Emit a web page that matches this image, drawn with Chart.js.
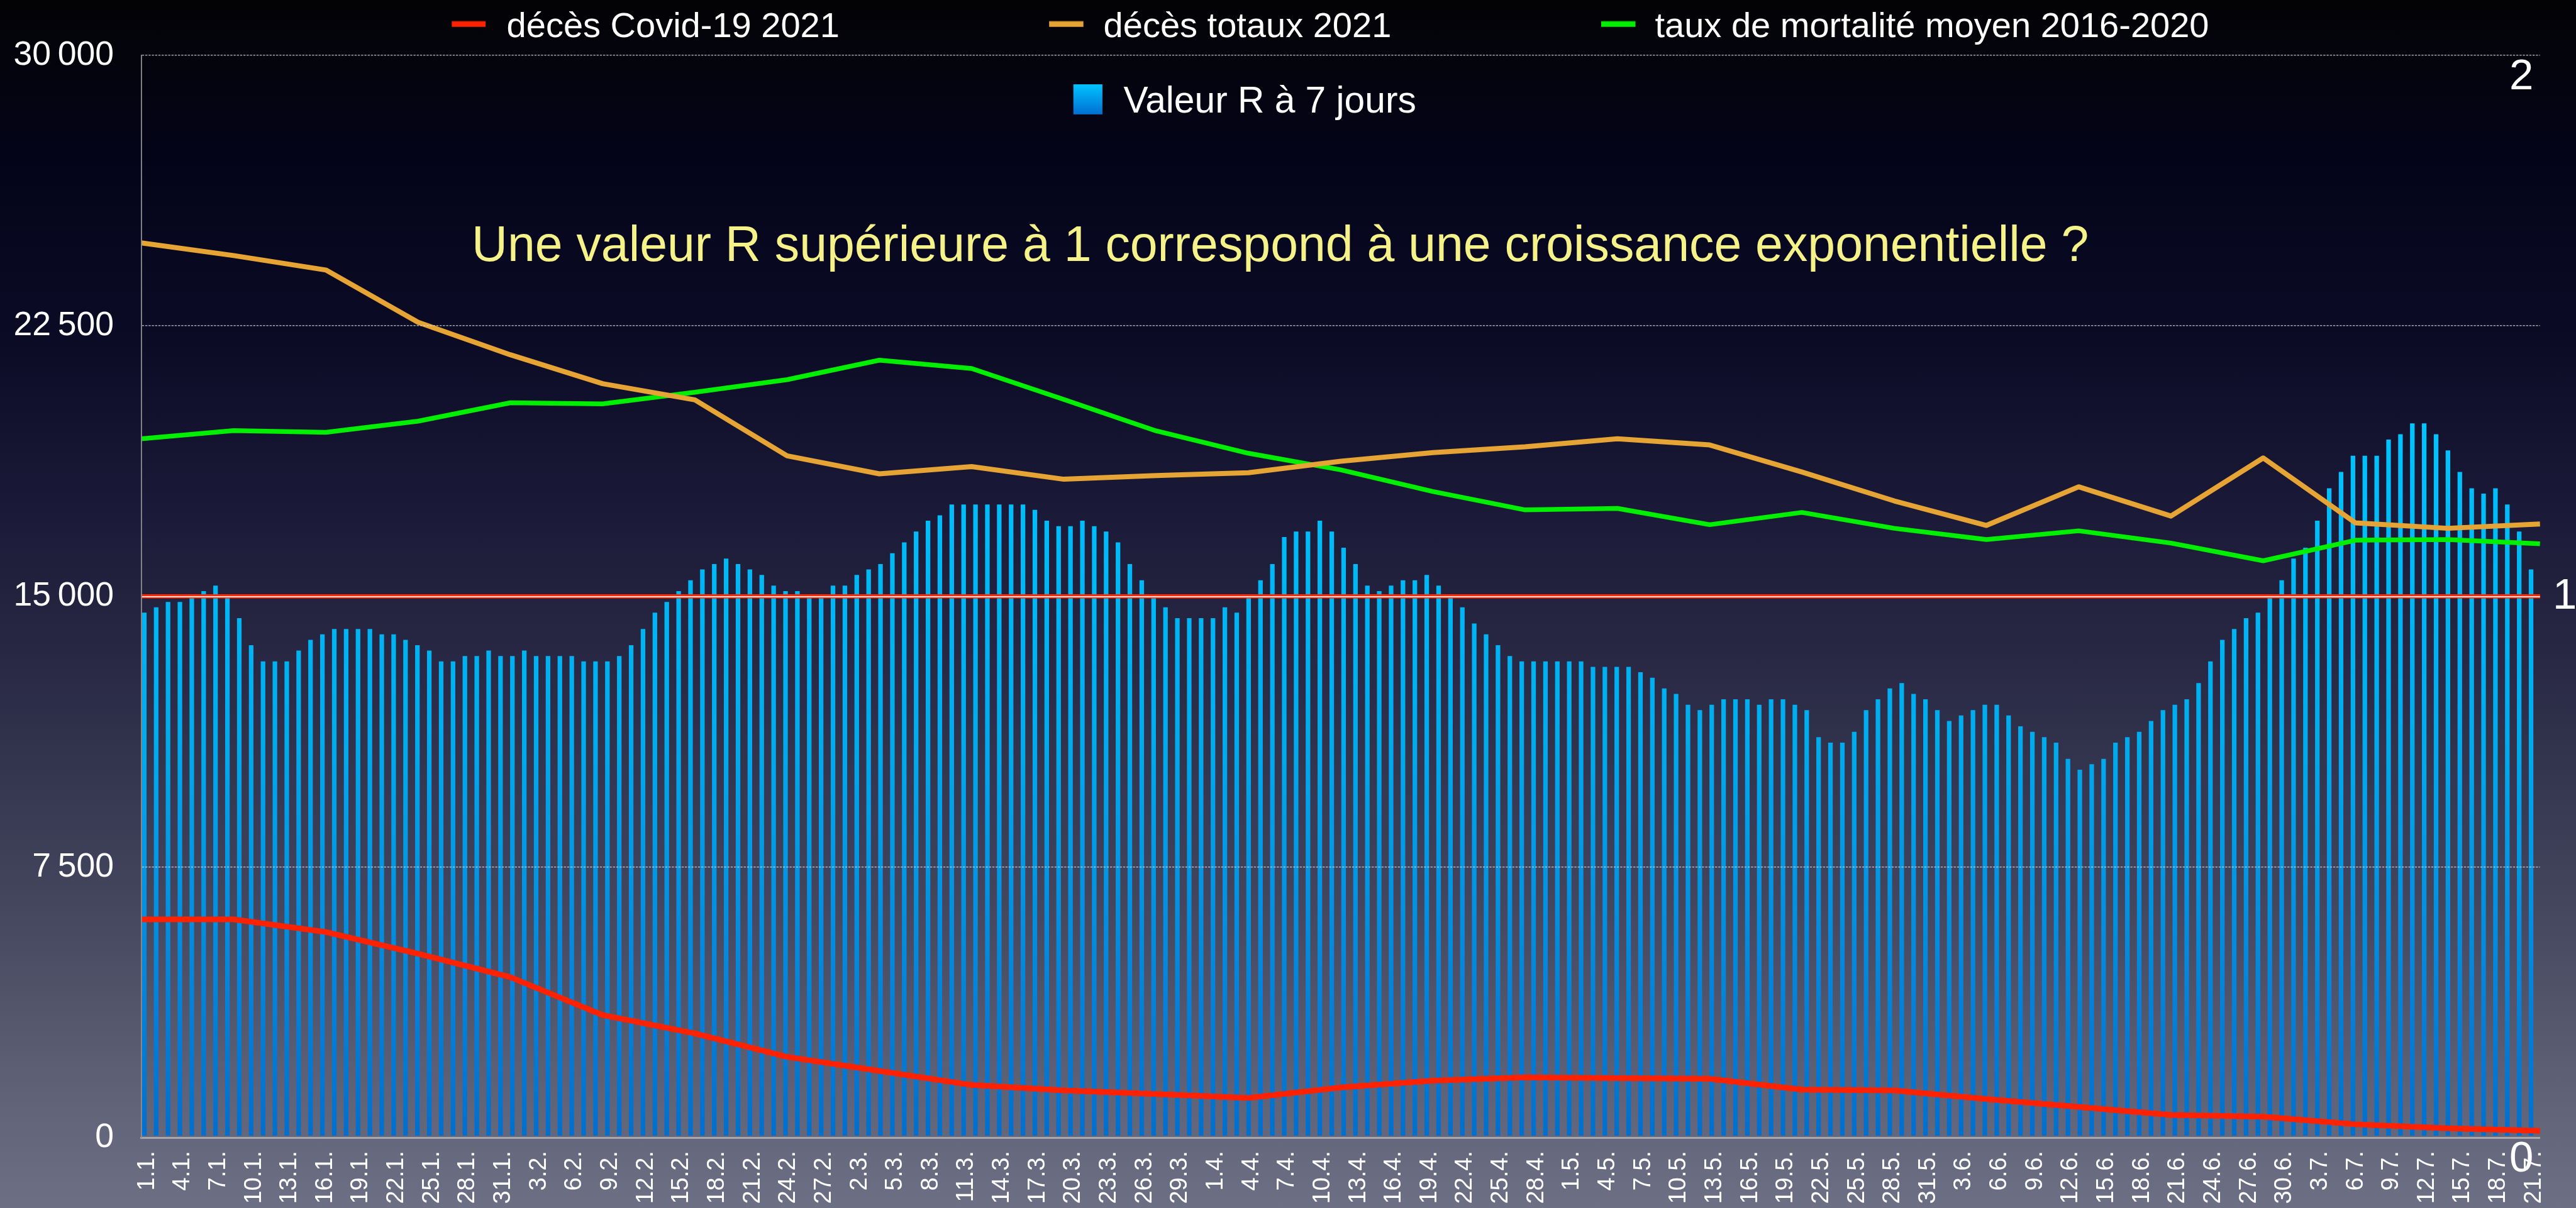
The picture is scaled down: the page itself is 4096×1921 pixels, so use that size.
<!DOCTYPE html>
<html lang="fr">
<head>
<meta charset="utf-8">
<title>Valeur R à 7 jours et décès 2021</title>
<script src="https://cdn.jsdelivr.net/npm/chart.js@4.4.1/dist/chart.umd.min.js"></script>
<style>
html, body { margin:0; padding:0; width:4096px; height:1921px; overflow:hidden;
  background: linear-gradient(to bottom, #030305 0%, #04041a 14%, #0b0b26 28%, #1a1a38 42%, #2a2a46 56%, #3a3b54 68%, #4d4f66 80%, #5f6176 90%, #6d7084 100%); }
canvas { display:block; }
</style>
</head>
<body>
<canvas id="c" width="4096" height="1921"></canvas>
<script>
// ---------- DATA ----------
const days = [
 "1.1.","2.1.","3.1.","4.1.","5.1.","6.1.","7.1.","8.1.","9.1.","10.1.","11.1.","12.1.","13.1.","14.1.","15.1.","16.1.","17.1.","18.1.","19.1.","20.1.","21.1.","22.1.","23.1.","24.1.","25.1.","26.1.","27.1.","28.1.","29.1.","30.1.","31.1.",
 "1.2.","2.2.","3.2.","4.2.","5.2.","6.2.","7.2.","8.2.","9.2.","10.2.","11.2.","12.2.","13.2.","14.2.","15.2.","16.2.","17.2.","18.2.","19.2.","20.2.","21.2.","22.2.","23.2.","24.2.","25.2.","26.2.","27.2.","28.2.",
 "1.3.","2.3.","3.3.","4.3.","5.3.","6.3.","7.3.","8.3.","9.3.","10.3.","11.3.","12.3.","13.3.","14.3.","15.3.","16.3.","17.3.","18.3.","19.3.","20.3.","21.3.","22.3.","23.3.","24.3.","25.3.","26.3.","27.3.","28.3.","29.3.","30.3.","31.3.",
 "1.4.","2.4.","3.4.","4.4.","5.4.","6.4.","7.4.","8.4.","9.4.","10.4.","11.4.","12.4.","13.4.","14.4.","15.4.","16.4.","17.4.","18.4.","19.4.","20.4.","21.4.","22.4.","23.4.","24.4.","25.4.","26.4.","27.4.","28.4.","29.4.","30.4.",
 "1.5.","2.5.","3.5.","4.5.","5.5.","6.5.","7.5.","8.5.","9.5.","10.5.","11.5.","12.5.","13.5.","14.5.","15.5.","16.5.","17.5.","18.5.","19.5.","20.5.","21.5.","22.5.","23.5.","24.5.","25.5.","26.5.","27.5.","28.5.","29.5.","30.5.","31.5.",
 "1.6.","2.6.","3.6.","4.6.","5.6.","6.6.","7.6.","8.6.","9.6.","10.6.","11.6.","12.6.","13.6.","14.6.","15.6.","16.6.","17.6.","18.6.","19.6.","20.6.","21.6.","22.6.","23.6.","24.6.","25.6.","26.6.","27.6.","28.6.","29.6.","30.6.",
 "1.7.","2.7.","3.7.","4.7.","5.7.","6.7.","7.7.","8.7.","9.7.","10.7.","11.7.","12.7.","13.7.","14.7.","15.7.","16.7.","17.7.","18.7.","19.7.","20.7.","21.7."
];

// Valeur R à 7 jours (right axis)
const rValues = [
 0.97,0.98,0.99,0.99,1.00,1.01,1.02,1.00,0.96,0.91,
 0.88,0.88,0.88,0.90,0.92,0.93,0.94,0.94,0.94,0.94,
 0.93,0.93,0.92,0.91,0.90,0.88,0.88,0.89,0.89,0.90,
 0.89,0.89,0.90,0.89,0.89,0.89,0.89,0.88,0.88,0.88,
 0.89,0.91,0.94,0.97,0.99,1.01,1.03,1.05,1.06,1.07,
 1.06,1.05,1.04,1.02,1.01,1.01,1.00,1.00,1.02,1.02,
 1.04,1.05,1.06,1.08,1.10,1.12,1.14,1.15,1.17,1.17,
 1.17,1.17,1.17,1.17,1.17,1.16,1.14,1.13,1.13,1.14,
 1.13,1.12,1.10,1.06,1.03,1.00,0.98,0.96,0.96,0.96,
 0.96,0.98,0.97,1.00,1.03,1.06,1.11,1.12,1.12,1.14,
 1.12,1.09,1.06,1.02,1.01,1.02,1.03,1.03,1.04,1.02,
 1.00,0.98,0.95,0.93,0.91,0.89,0.88,0.88,0.88,0.88,
 0.88,0.88,0.87,0.87,0.87,0.87,0.86,0.85,0.83,0.82,
 0.80,0.79,0.80,0.81,0.81,0.81,0.80,0.81,0.81,0.80,
 0.79,0.74,0.73,0.73,0.75,0.79,0.81,0.83,0.84,0.82,
 0.81,0.79,0.77,0.78,0.79,0.80,0.80,0.78,0.76,0.75,
 0.74,0.73,0.70,0.68,0.69,0.70,0.73,0.74,0.75,0.77,
 0.79,0.80,0.81,0.84,0.88,0.92,0.94,0.96,0.97,1.00,
 1.03,1.07,1.09,1.14,1.20,1.23,1.26,1.26,1.26,1.29,
 1.30,1.32,1.32,1.30,1.27,1.23,1.20,1.19,1.20,1.17,
 1.12,1.05
];

// line series sampling points (spread over the whole period)
const weeks = ["S1","S2","S3","S4","S5","S6","S7","S8","S9","S10","S11","S12","S13","S14",
 "S15","S16","S17","S18","S19","S20","S21","S22","S23","S24","S25","S26","S27"];

const covidDeaths = [6050,6050,5700,5100,4450,3400,2890,2240,1850,1460,1310,1210,1100,1390,
 1580,1670,1650,1630,1330,1310,1070,850,630,580,370,260,190];

const totalDeaths = [24800,24450,24050,22600,21700,20900,20450,18900,18400,18600,18250,18350,18430,18750,
 18990,19150,19370,19200,18450,17650,16970,18040,17230,18840,17040,16890,17010];

const avgMortality = [19370,19600,19550,19860,20370,20340,20660,21010,21550,21320,20460,19590,18970,18510,
 17910,17400,17440,16990,17330,16890,16580,16820,16480,15990,16560,16580,16460];

const leftTicks = [0, 7500, 15000, 22500, 30000];
const rightTicks = [0, 1, 2];

const seriesNames = {
  r: "Valeur R à 7 jours",
  covid: "décès Covid-19 2021",
  total: "décès totaux 2021",
  avg: "taux de mortalité moyen 2016-2020"
};
const noteText = "Une valeur R supérieure à 1 correspond à une croissance exponentielle ?";

// ---------- STYLE / LAYOUT ----------
const FONT = "'Liberation Sans', Arial, Helvetica, sans-serif";
const AREA = { left: 224.7, right: 4047.4, top: 88.0, bottom: 1809.1 };
const W = 4096, H = 1921;

function fmtThousands(v) {
  if (v < 1000) return String(v);
  const th = Math.floor(v / 1000), rest = String(v % 1000).padStart(3, '0');
  return th + '\u2009' + rest;
}

// right-axis labels: the end labels sit a little lower and further inside, as in the original
function fmtRight(v) {
  if (v === 1) return String(v);
  return ['', String(v) + '\u2003'];
}

function barGradient(ctx2d) {
  const g = ctx2d.createLinearGradient(0, 670, 0, AREA.bottom);
  g.addColorStop(0, '#00c4ff');
  g.addColorStop(0.44, '#00acee');
  g.addColorStop(0.80, '#0483da');
  g.addColorStop(1, '#006fcf');
  return g;
}

const overlayPlugin = {
  id: 'overlay',
  afterDraw(chart, args, opts) {
    const ctx = chart.ctx;
    ctx.save();
    ctx.textBaseline = 'alphabetic';
    ctx.textAlign = 'left';
    opts.items.forEach(it => {
      const ds = chart.data.datasets[it.dataset];
      if (ds.type === 'line') {
        ctx.fillStyle = ds.borderColor;
        ctx.fillRect(it.sx, it.sy, it.sw, it.sh);
        ctx.fillStyle = 'rgba(0,0,0,0.25)';
        ctx.fillRect(it.sx, it.sy, it.sw, 1.2);
      } else {
        const g = ctx.createLinearGradient(0, it.sy, 0, it.sy + it.sh);
        g.addColorStop(0, '#00c4ff');
        g.addColorStop(1, '#006fd0');
        ctx.fillStyle = g;
        ctx.fillRect(it.sx, it.sy, it.sw, it.sh);
      }
      ctx.fillStyle = '#ffffff';
      ctx.font = it.size + 'px ' + FONT;
      ctx.fillText(ds.label, it.tx, it.base);
    });
    const n = opts.note;
    ctx.fillStyle = n.color;
    ctx.font = n.size + 'px ' + FONT;
    ctx.fillText(n.text, n.x, n.base);
    ctx.restore();
  }
};

const chart = new Chart(document.getElementById('c'), {
  type: 'bar',
  data: {
    labels: days,
    datasets: [
      {
        type: 'bar',
        label: seriesNames.r,
        data: rValues,
        xAxisID: 'x',
        yAxisID: 'yR',
        backgroundColor: (c) => barGradient(c.chart.ctx),
        borderWidth: 0,
        barPercentage: 0.77,
        categoryPercentage: 1.0,
        order: 10
      },
      {
        type: 'line',
        label: seriesNames.covid,
        data: covidDeaths,
        xAxisID: 'xw',
        yAxisID: 'y',
        borderColor: '#ff2200',
        borderWidth: 9,
        pointRadius: 0,
        tension: 0,
        borderJoinStyle: 'round',
        order: 1
      },
      {
        type: 'line',
        label: seriesNames.total,
        data: totalDeaths,
        xAxisID: 'xw',
        yAxisID: 'y',
        borderColor: '#e6a434',
        borderWidth: 8,
        pointRadius: 0,
        tension: 0,
        borderJoinStyle: 'round',
        order: 2
      },
      {
        type: 'line',
        label: seriesNames.avg,
        data: avgMortality,
        xAxisID: 'xw',
        yAxisID: 'y',
        borderColor: '#00ee00',
        borderWidth: 7.5,
        pointRadius: 0,
        tension: 0,
        borderJoinStyle: 'round',
        order: 3
      }
    ]
  },
  options: {
    responsive: false,
    devicePixelRatio: 1,
    animation: false,
    events: [],
    layout: { padding: { top: AREA.top, left: 0, right: 0, bottom: 0 } },
    plugins: {
      legend: { display: false },
      tooltip: { enabled: false },
      title: { display: false },
      overlay: {
        items: [
          { dataset: 1, sx: 718.4, sy: 33.5, sw: 53.7, sh: 9.2, tx: 805.6, base: 58.7, size: 56 },
          { dataset: 2, sx: 1668.2, sy: 33.5, sw: 54.5, sh: 9.2, tx: 1754.6, base: 58.7, size: 56 },
          { dataset: 3, sx: 2546.0, sy: 33.5, sw: 54.5, sh: 9.2, tx: 2631.5, base: 58.7, size: 56 },
          { dataset: 0, sx: 1706.8, sy: 134.1, sw: 46.1, sh: 47.8, tx: 1786.4, base: 178.6, size: 58.7 }
        ],
        note: { text: noteText, x: 750, base: 415, size: 78.8, color: '#f6f28a' }
      }
    },
    scales: {
      x: {
        type: 'category',
        position: 'bottom',
        offset: true,
        grid: { display: false, drawTicks: false },
        border: { display: true, color: '#a9a9ad', width: 3, z: 1 },
        ticks: {
          color: '#ffffff',
          font: { family: FONT, size: 38 },
          autoSkip: false,
          minRotation: 90,
          maxRotation: 90,
          padding: 21,
          callback: function (value, index) {
            return index % 3 === 0 ? days[index] : '';
          }
        },
        afterFit: (s) => { s.height = H - AREA.bottom; }
      },
      xw: {
        type: 'category',
        labels: weeks,
        offset: false,
        display: false
      },
      y: {
        type: 'linear',
        position: 'left',
        min: 0,
        max: 30000,
        afterBuildTicks: (s) => { s.ticks = leftTicks.map(v => ({ value: v })); },
        grid: {
          drawTicks: false,
          z: 2,
          color: (c) => {
            if (!c.tick) return 'transparent';
            if (c.tick.value === 0) return 'transparent';
            if (c.tick.value === 15000) return 'rgba(255,226,220,0.95)';
            return 'rgba(215,215,220,0.75)';
          },
          lineWidth: (c) => (c.tick && c.tick.value === 15000) ? 2 : 1.6
        },
        border: {
          display: true,
          color: '#8d8d92',
          width: 1.8,
          z: 2,
          dash: (c) => (c.tick && c.tick.value !== 15000) ? [3.4, 1.8] : []
        },
        ticks: {
          color: '#ffffff',
          font: { family: FONT, size: 53.5 },
          padding: 43.7,
          z: 2,
          callback: (v) => fmtThousands(v)
        },
        afterFit: (s) => { s.width = AREA.left; }
      },
      yR: {
        type: 'linear',
        position: 'right',
        min: 0,
        max: 2,
        afterBuildTicks: (s) => { s.ticks = rightTicks.map(v => ({ value: v })); },
        grid: {
          drawTicks: false,
          z: 1,
          color: (c) => (c.tick && c.tick.value === 1) ? '#ff2a00' : 'transparent',
          lineWidth: 6.4
        },
        border: { display: false },
        ticks: {
          color: '#ffffff',
          font: { family: FONT, size: 69, lineHeight: 1.0 },
          mirror: true,
          padding: 58.6,
          crossAlign: 'near',
          z: 1,
          callback: (v) => fmtRight(v)
        },
        afterFit: (s) => {
          s.width = W - AREA.right;
          s.paddingTop = 0;
          s.paddingBottom = 0;
        }
      }
    }
  },
  plugins: [overlayPlugin]
});
</script>
</body>
</html>
